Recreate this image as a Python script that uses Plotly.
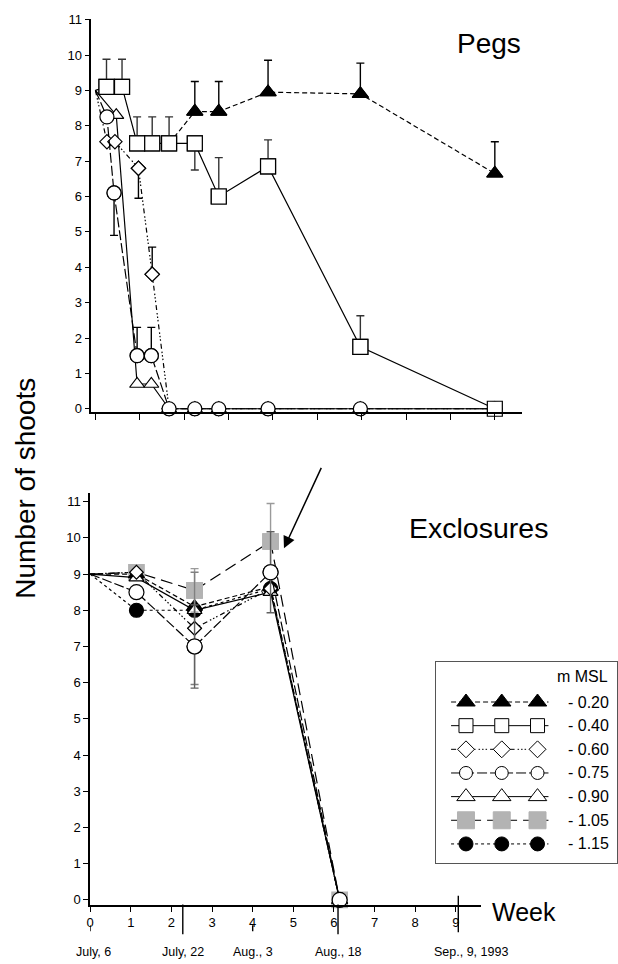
import plotly.graph_objects as go

W, H = 618, 964

# ---------------- data ----------------
levels = ["- 0.20", "- 0.40", "- 0.60", "- 0.75", "- 0.90", "- 1.05", "- 1.15"]

# Pegs panel (x in weeks after July 6)
pegs_m020_x = [1.66, 2.24, 2.78, 3.89, 5.97, 9.0]
pegs_m020_y = [7.5, 8.4, 8.4, 8.95, 8.9, 6.65]
pegs_m020_up = [0, 0.85, 0.85, 0.9, 0.87, 0.9]
pegs_m020_dn = [0, 0, 0, 0, 0, 0]

pegs_m040_x = [0, 0.25, 0.6, 0.94, 1.28, 1.66, 2.24, 2.78, 3.89, 5.97, 9.0]
pegs_m040_y = [9, 9.1, 9.1, 7.5, 7.5, 7.5, 7.5, 6.0, 6.85, 1.75, 0]
pegs_m040_up = [0, 0.78, 0.78, 0.75, 0.75, 0.75, 0, 1.1, 0.75, 0.88, 0]
pegs_m040_dn = [0, 0, 0, 0, 0, 0, 0.75, 0, 0, 0, 0]

pegs_m060_x = [0, 0.26, 0.44, 0.97, 1.28, 1.66, 2.24, 2.78, 3.89, 5.97, 9.0]
pegs_m060_y = [9, 7.55, 7.55, 6.8, 3.8, 0, 0, 0, 0, 0, 0]
pegs_m060_up = [0, 0, 0, 0, 0.77, 0, 0, 0, 0, 0, 0]
pegs_m060_dn = [0, 0, 0, 0.85, 0, 0, 0, 0, 0, 0, 0]

pegs_m075_x = [0, 0.26, 0.42, 0.94, 1.26, 1.66, 2.24, 2.78, 3.89, 5.97, 9.0]
pegs_m075_y = [9, 8.25, 6.1, 1.5, 1.5, 0, 0, 0, 0, 0, 0]
pegs_m075_up = [0, 0, 0, 0.8, 0.8, 0, 0, 0, 0, 0, 0]
pegs_m075_dn = [0, 0, 1.2, 0, 0, 0, 0, 0, 0, 0, 0]

pegs_m090_x = [0, 0.47, 0.94, 1.26, 1.66, 2.24, 2.78, 3.89, 5.97, 9.0]
pegs_m090_y = [9, 8.3, 0.7, 0.7, 0, 0, 0, 0, 0, 0]

# Exclosures panel
excl_x = [0, 1.14, 2.57, 4.44, 6.14]
excl_m020_y = [9, 9.0, 8.1, 8.65, 0]
excl_m060_y = [9, 9.05, 7.5, 8.6, 0]
excl_m060_err = [0, 0, 1.55, 0, 0]
excl_m075_y = [9, 8.5, 7.0, 9.05, 0]
excl_m075_err = [0, 0, 1.15, 1.12, 0]
excl_m090_y = [9, 8.9, 8.0, 8.5, 0]
excl_m105_y = [9, 9.05, 8.55, 9.9, 0]
excl_m105_err = [0, 0, 0.6, 1.05, 0]
excl_m115_y = [9, 8.0, 8.0, 8.6, 0]

week_ticks = list(range(10))
y_ticks = list(range(12))

date_labels = ["July, 6", "July, 22", "Aug., 3", "Aug., 18", "Sep., 9, 1993"]
date_weeks = [0.0, 2.28, 4.0, 6.1, 9.06]
date_long = [False, True, False, True, True]

# ---------------- styles ----------------
FONT = "Liberation Sans, Arial, sans-serif"
styles = {
    "- 0.20": dict(symbol="triangle-up", fill="black", edge="black", dash="5px,3px"),
    "- 0.40": dict(symbol="square", fill="white", edge="black", dash="solid"),
    "- 0.60": dict(symbol="diamond", fill="white", edge="black",
                   dash="5px,3px,1.5px,2px,1.5px,2px,1.5px,3px"),
    "- 0.75": dict(symbol="circle", fill="white", edge="black", dash="10px,3px"),
    "- 0.90": dict(symbol="triangle-up", fill="white", edge="black", dash="solid"),
    "- 1.05": dict(symbol="square", fill="#b3b3b3", edge="#b3b3b3", dash="12px,6px"),
    "- 1.15": dict(symbol="circle", fill="black", edge="black", dash="3px,3px"),
}
top_sizes = {"- 0.20": 14, "- 0.40": 15, "- 0.60": 11, "- 0.75": 14, "- 0.90": 13}
bot_sizes = {"- 0.20": 14, "- 0.60": 10.5, "- 0.75": 15, "- 0.90": 13,
             "- 1.05": 15.5, "- 1.15": 14}
leg_sizes = {"- 0.20": 16, "- 0.40": 14, "- 0.60": 13, "- 0.75": 13, "- 0.90": 16,
             "- 1.05": 17, "- 1.15": 14}

fig = go.Figure()


def add_series(x, y, lvl, size, xa, ya, hide_first=False):
    st = styles[lvl]
    op = [1.0] * len(x)
    if hide_first:
        op[0] = 0
    fig.add_trace(go.Scatter(
        x=x, y=y, mode="lines+markers", xaxis=xa, yaxis=ya,
        line=dict(color="black", width=1.2, dash=st["dash"]),
        marker=dict(symbol=st["symbol"], size=size, color=st["fill"], opacity=op,
                    line=dict(color=st["edge"], width=1.2)),
        cliponaxis=False, showlegend=False, hoverinfo="skip"))


def add_errors(x, y, up, dn, lvl, size, xa, ya, color):
    st = styles[lvl]
    idx = [i for i in range(len(x)) if up[i] > 0 or dn[i] > 0]
    if not idx:
        return
    fig.add_trace(go.Scatter(
        x=[x[i] for i in idx], y=[y[i] for i in idx], mode="markers",
        xaxis=xa, yaxis=ya,
        marker=dict(symbol=st["symbol"], size=size, color=st["fill"],
                    line=dict(color=st["edge"], width=1.2)),
        error_y=dict(type="data", symmetric=False,
                     array=[up[i] for i in idx], arrayminus=[dn[i] for i in idx],
                     color=color, thickness=1.4, width=4),
        cliponaxis=False, showlegend=False, hoverinfo="skip"))


# ---- Pegs panel ----
add_series(pegs_m020_x, pegs_m020_y, "- 0.20", top_sizes["- 0.20"], "x", "y", hide_first=True)
add_series(pegs_m090_x, pegs_m090_y, "- 0.90", top_sizes["- 0.90"], "x", "y", hide_first=True)
add_series(pegs_m060_x, pegs_m060_y, "- 0.60", top_sizes["- 0.60"], "x", "y", hide_first=True)
add_series(pegs_m075_x, pegs_m075_y, "- 0.75", top_sizes["- 0.75"], "x", "y", hide_first=True)
add_series(pegs_m040_x, pegs_m040_y, "- 0.40", top_sizes["- 0.40"], "x", "y", hide_first=True)
add_errors(pegs_m020_x, pegs_m020_y, pegs_m020_up, pegs_m020_dn, "- 0.20",
           top_sizes["- 0.20"], "x", "y", "black")
add_errors(pegs_m060_x, pegs_m060_y, pegs_m060_up, pegs_m060_dn, "- 0.60",
           top_sizes["- 0.60"], "x", "y", "black")
add_errors(pegs_m075_x, pegs_m075_y, pegs_m075_up, pegs_m075_dn, "- 0.75",
           top_sizes["- 0.75"], "x", "y", "black")
add_errors(pegs_m040_x, pegs_m040_y, pegs_m040_up, pegs_m040_dn, "- 0.40",
           top_sizes["- 0.40"], "x", "y", "#333333")

# ---- Exclosures panel ----
add_series(excl_x, excl_m105_y, "- 1.05", bot_sizes["- 1.05"], "x2", "y2", hide_first=True)
add_series(excl_x, excl_m020_y, "- 0.20", bot_sizes["- 0.20"], "x2", "y2", hide_first=True)
add_series(excl_x, excl_m115_y, "- 1.15", bot_sizes["- 1.15"], "x2", "y2", hide_first=True)
add_series(excl_x, excl_m090_y, "- 0.90", bot_sizes["- 0.90"], "x2", "y2", hide_first=True)
add_series(excl_x, excl_m060_y, "- 0.60", bot_sizes["- 0.60"], "x2", "y2", hide_first=True)
add_series(excl_x, excl_m075_y, "- 0.75", bot_sizes["- 0.75"], "x2", "y2", hide_first=True)
add_errors(excl_x, excl_m105_y, excl_m105_err, excl_m105_err, "- 1.05",
           bot_sizes["- 1.05"], "x2", "y2", "#9a9a9a")
add_errors(excl_x, excl_m060_y, excl_m060_err, excl_m060_err, "- 0.60",
           bot_sizes["- 0.60"], "x2", "y2", "#808080")
add_errors(excl_x, excl_m075_y, excl_m075_err, excl_m075_err, "- 0.75",
           bot_sizes["- 0.75"], "x2", "y2", "#606060")

# ---- custom legend (x3/y3) ----
leg_x = [-0.417, 0, 1, 2, 2.306]
for i, lvl in enumerate(levels):
    st = styles[lvl]
    fig.add_trace(go.Scatter(
        x=leg_x, y=[-i] * len(leg_x), mode="lines+markers", xaxis="x3", yaxis="y3",
        line=dict(color="black", width=1.0, dash=st["dash"]),
        marker=dict(symbol=st["symbol"], size=leg_sizes[lvl], color=st["fill"],
                    opacity=[0, 1, 1, 1, 0], line=dict(color=st["edge"], width=1.0)),
        cliponaxis=False, showlegend=False, hoverinfo="skip"))

# ---------------- layout ----------------
def yax(domain, rng, anchor):
    return dict(domain=domain, range=rng, anchor=anchor, showline=True, linecolor="black",
                linewidth=1.5, ticks="outside", ticklen=5, tickwidth=1.2, tickcolor="black",
                tickvals=y_ticks, tickfont=dict(family=FONT, size=13, color="black"),
                showgrid=False, zeroline=False, fixedrange=True)

top_px_week = 44.67
top_x0 = 92.0
bot_px_week = 40.9
bot_x0 = 86.7


def txt(text, xp, yp, size, **kw):
    d = dict(text=text, x=xp / W, y=1 - yp / H, xref="paper", yref="paper",
             xanchor="center", yanchor="middle", showarrow=False,
             font=dict(family=FONT, size=size, color="black"))
    d.update(kw)
    return d


annotations = [
    txt("Pegs", 488, 38, 28),
    txt("Exclosures", 478, 527, 28.5),
    txt("Week", 523, 915, 25),
    txt("Number of shoots", 22, 487, 28, textangle=-90),
    dict(text="", x=4.77, y=9.71, xref="x2", yref="y2", ax=38, ay=-82,
         showarrow=True, arrowhead=2, arrowsize=1.6, arrowwidth=1.5, arrowcolor="black"),
    dict(text="m MSL", x=610 / W, y=1.06, xref="paper", yref="y3", xanchor="right",
         yanchor="middle", showarrow=False, font=dict(family=FONT, size=16, color="black")),
]
for i, lvl in enumerate(levels):
    annotations.append(dict(text=lvl, x=611 / W, y=-i, xref="paper", yref="y3",
                            xanchor="right", yanchor="middle", showarrow=False,
                            font=dict(family=FONT, size=16, color="black")))
for lab, wk in zip(date_labels, date_weeks):
    shift = 13 if lab.startswith("Sep") else (3 if lab.startswith("July, 6") else 0)
    annotations.append(dict(text=lab, x=wk, y=1 - 956 / H, xref="x2", yref="paper",
                            xanchor="center", yanchor="middle",
                            xshift=shift, showarrow=False,
                            font=dict(family=FONT, size=12.5, color="black")))

shapes = []
for wk, lng in zip(date_weeks, date_long):
    if lng:
        top = 899 if wk > 8 else 908
        bot = 936 if wk > 8 else 938
    else:
        top, bot = 929, 935
    shapes.append(dict(type="line", xref="x2", yref="paper", x0=wk, x1=wk,
                       y0=1 - top / H, y1=1 - bot / H,
                       line=dict(color="black", width=1.4)))

fig.update_layout(
    width=W, height=H, margin=dict(l=0, r=0, t=0, b=0),
    paper_bgcolor="white", plot_bgcolor="white", showlegend=False,
    xaxis=dict(domain=[88 / W, 521 / W],
               range=[(88 - top_x0) / top_px_week, (521 - top_x0) / top_px_week],
               anchor="y", showline=True, linecolor="black", linewidth=1.5,
               ticks="outside", ticklen=6, tickwidth=1.2, tickcolor="black",
               tickvals=week_ticks, showticklabels=False, showgrid=False,
               zeroline=False, fixedrange=True),
    yaxis=yax([1 - 410.2 / H, 1 - 12.7 / H], [-0.09, 11.03], "x"),
    xaxis2=dict(domain=[bot_x0 / W, 480 / W],
                range=[0, (480 - bot_x0) / bot_px_week],
                anchor="y2", showline=True, linecolor="black", linewidth=1.5,
                ticks="outside", ticklen=5, tickwidth=1.2, tickcolor="black",
                tickvals=week_ticks, tickfont=dict(family=FONT, size=13, color="black"),
                showgrid=False, zeroline=False, fixedrange=True),
    yaxis2=yax([1 - 908.3 / H, 1 - 491.7 / H], [-0.137, 11.25], "x2"),
    xaxis3=dict(domain=[435 / W, 617 / W], range=[-0.833, 4.222], anchor="y3",
                showline=True, mirror=True, linecolor="#555555", linewidth=1,
                showticklabels=False, ticks="", showgrid=False, zeroline=False,
                fixedrange=True),
    yaxis3=dict(domain=[1 - 866 / H, 1 - 663.3 / H], range=[-6.807, 1.674], anchor="x3",
                showline=True, mirror=True, linecolor="#555555", linewidth=1,
                showticklabels=False, ticks="", showgrid=False, zeroline=False,
                fixedrange=True),
    annotations=annotations,
    shapes=shapes,
)

fig.write_html("out.html")
